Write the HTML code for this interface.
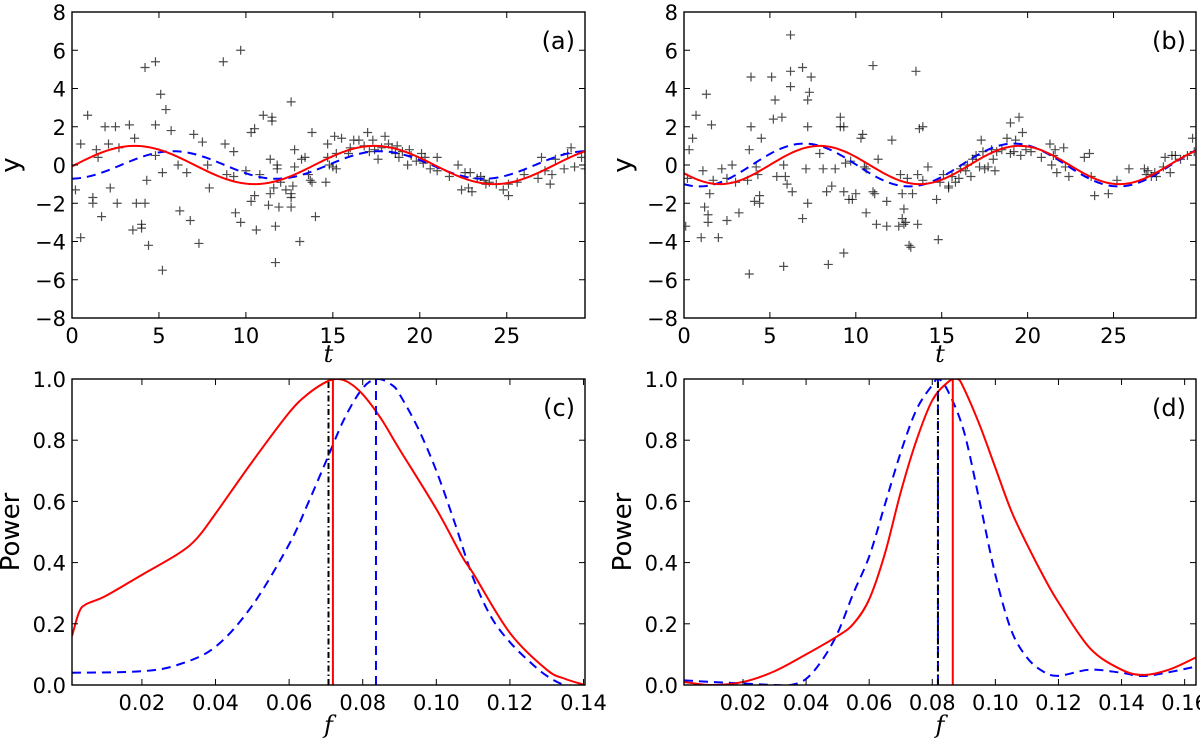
<!DOCTYPE html>
<html><head><meta charset="utf-8"><style>
html,body{margin:0;padding:0;background:#fff;}
svg{display:block;font-family:"DejaVu Sans","Liberation Sans",sans-serif;}
</style></head><body>
<svg id="fig" width="1200" height="745" viewBox="0 0 1200 745" xmlns="http://www.w3.org/2000/svg"></svg>
<script>
// ---------- data ----------
const tA = [0.2,0.5,0.5,0.9,1.2,1.2,1.4,1.5,1.7,1.9,2.1,2.2,2.5,2.6,2.7,3.3,3.5,3.6,3.7,4.0,4.0,4.2,4.2,4.3,4.4,4.8,4.8,4.8,5.1,5.2,5.2,5.4,5.7,6.1,6.2,6.6,6.8,7.0,7.3,7.5,7.8,7.9,8.7,8.8,8.9,9.3,9.3,9.4,9.7,9.7,10.0,10.3,10.3,10.5,10.5,10.6,10.8,11.0,11.3,11.4,11.4,11.5,11.5,11.6,11.7,11.7,11.8,11.8,11.9,12.0,12.3,12.6,12.6,12.6,12.6,12.7,12.8,12.8,13.1,13.2,13.4,13.6,13.7,13.8,13.8,14.0,14.6,14.7,14.7,14.8,15.0,15.1,15.2,15.2,15.5,15.9,16.0,16.2,16.5,16.8,17.0,17.1,17.3,17.4,17.6,17.8,18.0,18.2,18.4,18.6,18.7,18.8,19.0,19.3,19.4,19.5,19.8,20.1,20.2,20.3,20.6,21.0,21.0,21.7,22.2,22.4,22.6,22.8,22.9,23.0,23.3,23.5,23.7,23.8,24.0,24.4,24.8,25.1,25.1,25.6,26.0,26.8,27.0,27.2,27.5,27.6,27.8,28.3,28.5,28.7,28.9,29.3,29.5];
const yA = [-1.3,1.1,-3.8,2.6,-1.7,-2.0,0.8,0.4,-2.7,2.0,1.1,-1.2,2.0,-2.0,0.9,2.1,-3.4,1.4,-2.0,-3.1,-3.3,5.1,-2.0,-0.8,-4.2,2.1,5.4,0.5,3.7,-5.5,-0.4,2.9,1.8,0.0,-2.4,-0.4,-2.9,1.6,-4.1,1.2,0.0,-1.2,5.4,1.1,-0.5,0.7,-0.6,-2.5,6.0,-3.0,-0.3,1.7,-1.9,1.9,-1.6,-3.4,-0.5,2.6,-2.1,0.3,-1.5,2.5,2.3,-1.2,-5.1,-3.2,-0.2,0.0,-2.2,-0.9,-1.3,3.3,-1.5,-1.7,-2.2,-1.1,0.8,-0.1,-4.0,0.3,0.4,-0.5,-0.8,-0.9,1.7,-2.7,-0.9,1.1,0.4,0.0,-0.1,1.5,0.6,-0.2,1.4,0.6,0.9,1.3,1.3,1.0,1.7,0.7,1.3,0.8,0.3,0.9,1.5,1.1,0.9,0.6,1.0,0.4,0.7,0.0,0.8,0.5,0.2,0.6,0.1,0.4,-0.2,-0.3,0.4,-0.6,0.0,-1.3,-0.4,-1.2,-0.4,-1.4,-0.7,-0.6,-0.8,-1.0,-0.9,-1.0,-1.3,-1.6,-1.0,-0.9,-0.5,-0.7,0.4,-0.3,-1.0,-0.5,0.3,-0.2,0.6,0.9,-0.1,0.4,-0.2];
const tB = [0.1,0.2,0.3,0.5,0.7,1.0,1.1,1.2,1.3,1.4,1.4,1.5,1.6,1.7,2.0,2.2,2.5,2.5,2.8,3.0,3.2,3.7,3.8,3.8,3.9,3.9,4.1,4.2,4.3,4.4,4.4,4.5,5.1,5.2,5.3,5.4,5.7,5.8,5.8,5.9,6.0,6.2,6.2,6.2,6.3,6.9,6.9,7.1,7.2,7.2,7.2,7.3,7.4,7.9,8.1,8.3,8.4,8.6,8.8,9.1,9.1,9.3,9.3,9.3,9.4,9.6,9.7,9.8,10.0,10.3,10.4,10.5,10.6,10.6,11.0,11.0,11.1,11.2,11.3,11.8,11.8,12.1,12.5,12.6,12.7,12.7,12.8,12.8,12.9,13.0,13.1,13.2,13.3,13.5,13.6,13.6,13.7,13.9,13.9,14.2,14.7,14.8,14.9,15.1,15.4,15.4,15.6,15.8,16.0,16.1,16.4,16.5,16.7,16.8,17.0,17.2,17.3,17.4,17.5,17.7,17.9,18.0,18.1,18.2,18.5,18.8,19.0,19.0,19.2,19.3,19.5,19.6,19.7,19.9,20.2,20.8,21.3,21.4,21.5,21.6,21.7,22.1,22.2,22.4,23.3,23.6,23.7,23.9,24.7,25.2,25.9,26.8,26.9,27.0,27.2,27.4,27.5,27.9,28.0,28.3,28.4,28.6,28.9,29.3,29.6,29.7];
const yB = [-3.2,-0.7,0.8,1.4,2.6,-3.8,-0.3,-2.2,3.7,-2.6,-3.0,-1.5,2.1,-0.8,-3.8,-0.2,-0.7,-2.9,0.0,-0.9,-2.5,-0.8,0.8,-5.7,2.0,4.6,-1.9,-0.1,-0.5,-1.6,-2.0,1.4,4.6,2.4,3.4,-0.6,2.5,0.0,-5.3,-0.6,-1.0,4.1,4.9,6.8,-1.4,5.1,-2.8,-0.2,-2.0,2.0,3.4,3.8,4.6,0.6,-0.2,-1.4,-5.2,-1.1,-0.2,2.5,2.0,2.0,-1.4,-4.6,0.1,-1.8,0.2,-1.8,-1.5,1.4,1.6,-0.1,-0.2,-2.5,5.2,-1.4,-1.5,-3.1,0.3,-1.9,-3.2,1.3,-3.2,-0.5,-2.8,-1.5,-2.3,-3.1,-3.0,-0.7,-4.2,-4.3,-1.5,4.9,-0.5,-3.1,1.9,2.0,-0.8,-0.1,-1.8,-3.9,-0.9,-0.5,-1.1,-1.2,-0.6,-0.9,-0.7,-0.2,-0.3,0.0,-0.6,0.3,0.5,-0.1,1.3,0.7,-0.2,-0.1,0.8,0.3,-0.3,0.7,0.8,1.4,2.2,0.6,0.7,1.3,2.5,0.5,1.7,0.8,0.7,0.4,1.1,0.0,0.5,0.8,-0.4,0.9,-0.1,-0.6,0.4,0.6,-0.6,-1.6,-1.5,-0.8,-0.2,-0.2,-0.5,-0.3,-0.6,-0.4,-0.6,-0.1,0.4,-0.4,0.5,0.5,0.3,0.5,1.4,0.7];
// sinusoid fit parameters: [amplitude, frequency, time of peak]
const fitRedA = [1.0, 0.0725, 3.6];
const fitBlueA = [0.72, 0.084, 5.8];
const fitRedB = [1.0, 0.086, 7.9];
const fitBlueB = [1.12, 0.082, 7.0];
// periodograms
const fRedC = [0.001,0.003,0.005,0.01,0.02,0.03,0.035,0.04,0.05,0.06,0.065,0.07,0.073,0.076,0.08,0.085,0.09,0.10,0.107,0.11,0.12,0.13,0.135,0.1404];
const pRedC = [0.16,0.24,0.265,0.29,0.36,0.43,0.48,0.56,0.73,0.89,0.95,0.99,1.0,0.99,0.95,0.87,0.77,0.575,0.42,0.365,0.17,0.05,0.02,0.0];
const fBlueC = [0.001,0.02,0.03,0.04,0.05,0.06,0.065,0.07,0.075,0.08,0.084,0.088,0.09,0.095,0.10,0.105,0.11,0.115,0.12,0.125,0.13,0.135,0.1404];
const pBlueC = [0.04,0.045,0.067,0.125,0.26,0.46,0.59,0.73,0.87,0.97,1.0,0.98,0.95,0.84,0.70,0.53,0.35,0.22,0.14,0.08,0.03,0.0,0.0];
const fRedD = [0.0013,0.01,0.02,0.03,0.04,0.05,0.055,0.06,0.065,0.07,0.075,0.08,0.085,0.088,0.09,0.095,0.10,0.105,0.11,0.115,0.12,0.13,0.14,0.147,0.155,0.1636];
const pRedD = [0.01,0.0,0.01,0.045,0.10,0.16,0.2,0.28,0.43,0.63,0.80,0.93,0.99,1.0,0.97,0.85,0.71,0.57,0.46,0.36,0.27,0.12,0.05,0.033,0.05,0.09];
const fBlueD = [0.0013,0.01,0.02,0.03,0.035,0.04,0.045,0.05,0.055,0.06,0.065,0.07,0.075,0.08,0.082,0.085,0.09,0.095,0.10,0.105,0.11,0.115,0.12,0.13,0.14,0.148,0.1636];
const pBlueD = [0.015,0.01,0.005,0.0,0.0,0.02,0.08,0.17,0.30,0.42,0.59,0.76,0.90,0.98,1.0,0.96,0.83,0.60,0.36,0.18,0.09,0.045,0.03,0.05,0.04,0.03,0.06];
const vlinesC = [0.0707, 0.0719, 0.0836]; // dash-dot black, red solid, blue dashed
const vlinesD = [0.0818, 0.0865, 0.0818];
const yTicksTop = [-8,-6,-4,-2,0,2,4,6,8];
const tTicks = [0,5,10,15,20,25];
const pTicks = [0.0,0.2,0.4,0.6,0.8,1.0];
const fTicksC = [0.02,0.04,0.06,0.08,0.10,0.12,0.14];
const fTicksD = [0.02,0.04,0.06,0.08,0.10,0.12,0.14,0.16];

// ---------- drawing ----------
const NS = "http://www.w3.org/2000/svg";
const svg = document.getElementById('fig');
function mk(tag, attrs, parent){
  const e = document.createElementNS(NS, tag);
  for (const k in attrs) e.setAttribute(k, attrs[k]);
  (parent||svg).appendChild(e);
  return e;
}
function panel(cfg){
  const g = mk('g', {});
  
  
  const X = v => cfg.L + (v - cfg.x0) / (cfg.x1 - cfg.x0) * (cfg.R - cfg.L);
  const Y = v => cfg.B - (v - cfg.y0) / (cfg.y1 - cfg.y0) * (cfg.B - cfg.T);
  const cid = 'clip-' + cfg.name;
  const cp = mk('clipPath', {id: cid}, g);
  mk('rect', {x: cfg.L, y: cfg.T, width: cfg.R - cfg.L, height: cfg.B - cfg.T}, cp);
  const plot = mk('g', {'clip-path': 'url(#' + cid + ')'}, g);
  
  
  cfg.draw(plot, X, Y);
  const fr = mk('rect', {x: cfg.L, y: cfg.T, width: cfg.R - cfg.L, height: cfg.B - cfg.T, fill: 'none', stroke: '#000', 'stroke-width': 1.4}, g);
  
  
  cfg.xticks.forEach((v, i) => {
    const x = X(v);
    mk('line', {x1: x, x2: x, y1: cfg.B, y2: cfg.B - 6, stroke: '#000', 'stroke-width': 1}, g);
    mk('line', {x1: x, x2: x, y1: cfg.T, y2: cfg.T + 6, stroke: '#000', 'stroke-width': 1}, g);
    const t = mk('text', {x: x, y: cfg.B + 25, 'text-anchor': 'middle', 'font-size': 21}, g);
    t.textContent = cfg.xfmt(v);
    
    
  });
  cfg.yticks.forEach(v => {
    const y = Y(v);
    mk('line', {x1: cfg.L, x2: cfg.L + 6, y1: y, y2: y, stroke: '#000', 'stroke-width': 1}, g);
    mk('line', {x1: cfg.R, x2: cfg.R - 6, y1: y, y2: y, stroke: '#000', 'stroke-width': 1}, g);
    const t = mk('text', {x: cfg.L - 6, y: y + 8, 'text-anchor': 'end', 'font-size': 21}, g);
    t.textContent = cfg.yfmt(v);
    
    
  });
  const xl = mk('text', {x: (cfg.L + cfg.R) / 2, y: cfg.B + cfg.xlOff, 'text-anchor': 'middle', 'font-size': 24, 'font-style': 'italic', 'font-family': '"DejaVu Serif","Liberation Serif",serif'}, g);
  xl.textContent = cfg.xlabel;
  
  
  const cy = (cfg.T + cfg.B) / 2;
  const yl = mk('text', {x: cfg.L - 53, y: cy, 'text-anchor': 'middle', 'font-size': 26, transform: 'rotate(-90 ' + (cfg.L - 53) + ' ' + cy + ')'}, g);
  yl.textContent = cfg.ylabel;
  
  
  const pl = mk('text', {x: cfg.R - 10, y: cfg.T + 37, 'text-anchor': 'end', 'font-size': 24}, g);
  pl.textContent = cfg.tag;
  
  
}
function fitLine(plot, p, X, Y, color, dash, name){
  let d = '';
  for (let i = 0; i <= 300; i++){
    const t = 30 * i / 300;
    const v = p[0] * Math.cos(2 * Math.PI * p[1] * (t - p[2]));
    d += (i ? 'L' : 'M') + X(t).toFixed(2) + ',' + Y(v).toFixed(2);
  }
  const e = mk('path', {d: d, fill: 'none', stroke: color, 'stroke-width': 2, 'stroke-dasharray': dash || 'none'}, plot);
  
  
}
function scatter(plot, ts, ys, X, Y, name){
  const g = mk('g', {stroke: '#000', 'stroke-opacity': 0.7, 'stroke-width': 1.2}, plot);
  
  
  ts.forEach((t, i) => {
    const x = X(t), y = Y(ys[i]);
    mk('path', {d: 'M' + (x - 4.5) + ',' + y + 'H' + (x + 4.5) + 'M' + x + ',' + (y - 4.5) + 'V' + (y + 4.5)}, g);
  });
}
function curve(plot, fs, ps, X, Y, color, dash, name){
  const pts = fs.map((f, i) => [X(f), Y(ps[i])]);
  let d = 'M' + pts[0][0] + ',' + pts[0][1];
  for (let i = 0; i < pts.length - 1; i++){
    const p0 = pts[Math.max(0, i - 1)], p1 = pts[i], p2 = pts[i + 1], p3 = pts[Math.min(pts.length - 1, i + 2)];
    const c1 = [p1[0] + (p2[0] - p0[0]) / 6, p1[1] + (p2[1] - p0[1]) / 6];
    const c2 = [p2[0] - (p3[0] - p1[0]) / 6, p2[1] - (p3[1] - p1[1]) / 6];
    d += 'C' + c1[0].toFixed(2) + ',' + c1[1].toFixed(2) + ' ' + c2[0].toFixed(2) + ',' + c2[1].toFixed(2) + ' ' + p2[0].toFixed(2) + ',' + p2[1].toFixed(2);
  }
  const e = mk('path', {d: d, fill: 'none', stroke: color, 'stroke-width': 2, 'stroke-dasharray': dash || 'none'}, plot);
  
  
}
function vline(plot, f, X, Y, color, dash, name){
  const e = mk('line', {x1: X(f), x2: X(f), y1: Y(0), y2: Y(1), stroke: color, 'stroke-width': 2, 'stroke-dasharray': dash || 'none'}, plot);
  
  
}
const intFmt = v => (v < 0 ? '\u2212' + Math.abs(v) : '' + v);
const f1 = v => v.toFixed(1);
const f2 = v => v.toFixed(2);

panel({name: 'panel-a', L: 72, R: 585, T: 12, B: 318, x0: 0, x1: 29.5, y0: -8, y1: 8, xlOff: 44,
  xticks: tTicks, yticks: yTicksTop, xfmt: v => '' + v, yfmt: intFmt, xlabel: 't', ylabel: 'y', tag: '(a)',
  draw: (p, X, Y) => {
    scatter(p, tA, yA, X, Y, 'data-points-a');
    fitLine(p, fitBlueA, X, Y, '#0000ff', '9,6', 'blue-dashed-fit-a');
    fitLine(p, fitRedA, X, Y, '#ff0000', null, 'red-fit-a');
  }});
panel({name: 'panel-b', L: 684, R: 1196, T: 12, B: 318, x0: 0, x1: 29.8, y0: -8, y1: 8, xlOff: 44,
  xticks: tTicks, yticks: yTicksTop, xfmt: v => '' + v, yfmt: intFmt, xlabel: 't', ylabel: 'y', tag: '(b)',
  draw: (p, X, Y) => {
    scatter(p, tB, yB, X, Y, 'data-points-b');
    fitLine(p, fitBlueB, X, Y, '#0000ff', '9,6', 'blue-dashed-fit-b');
    fitLine(p, fitRedB, X, Y, '#ff0000', null, 'red-fit-b');
  }});
panel({name: 'panel-c', L: 72, R: 585, T: 379, B: 685, x0: 0.001, x1: 0.1404, y0: 0, y1: 1, xlOff: 48,
  xticks: fTicksC, yticks: pTicks, xfmt: f2, yfmt: f1, xlabel: 'f', ylabel: 'Power', tag: '(c)',
  draw: (p, X, Y) => {
    curve(p, fBlueC, pBlueC, X, Y, '#0000ff', '9,6', 'blue-periodogram-c');
    curve(p, fRedC, pRedC, X, Y, '#ff0000', null, 'red-periodogram-c');
    vline(p, vlinesC[0], X, Y, '#000', '6,3,1.5,3', 'true-frequency-line-c');
    vline(p, vlinesC[1], X, Y, '#ff0000', null, 'red-peak-line-c');
    vline(p, vlinesC[2], X, Y, '#0000ff', '9,6', 'blue-peak-line-c');
  }});
panel({name: 'panel-d', L: 684, R: 1196, T: 379, B: 685, x0: 0.0013, x1: 0.1636, y0: 0, y1: 1, xlOff: 48,
  xticks: fTicksD, yticks: pTicks, xfmt: f2, yfmt: f1, xlabel: 'f', ylabel: 'Power', tag: '(d)',
  draw: (p, X, Y) => {
    curve(p, fBlueD, pBlueD, X, Y, '#0000ff', '9,6', 'blue-periodogram-d');
    curve(p, fRedD, pRedD, X, Y, '#ff0000', null, 'red-periodogram-d');
    vline(p, vlinesD[2], X, Y, '#0000ff', '9,6', 'blue-peak-line-d');
    vline(p, vlinesD[0], X, Y, '#000', '6,3,1.5,3', 'true-frequency-line-d');
    vline(p, vlinesD[1], X, Y, '#ff0000', null, 'red-peak-line-d');
  }});
</script>
</body></html>
